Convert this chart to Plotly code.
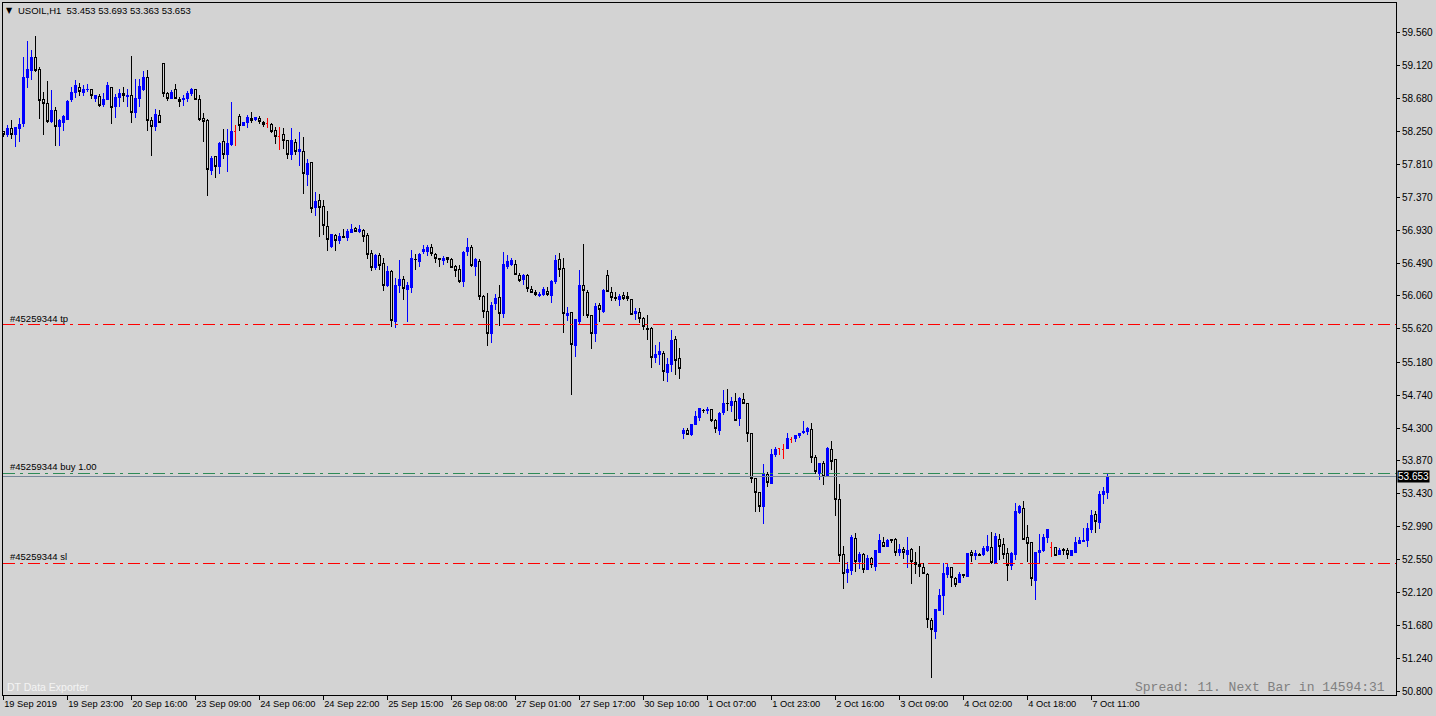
import plotly.graph_objects as go

# ---------------- data (USOIL, H1) ----------------
opens = [58.242,58.207,58.286,58.207,58.286,58.353,58.964,59.053,59.230,59.070,
58.672,58.619,58.375,58.517,58.308,58.366,58.410,58.676,58.760,58.831,
58.760,58.796,58.805,58.689,58.716,58.601,58.676,58.831,58.574,58.698,
58.751,58.707,58.725,58.494,58.689,58.809,58.964,58.397,58.308,58.459,
59.150,58.751,58.685,58.796,58.676,58.663,58.685,58.743,58.796,58.663,
58.419,58.397,57.724,57.910,57.777,58.105,57.945,58.078,58.246,58.450,
58.326,58.362,58.419,58.402,58.419,58.366,58.344,58.340,58.264,58.180,
58.198,58.118,57.945,58.101,57.977,57.985,57.671,57.826,57.232,57.321,
57.254,56.980,56.714,56.856,56.802,56.847,56.834,56.900,56.958,56.918,
56.935,56.856,56.625,56.439,56.590,56.484,56.191,56.386,55.717,56.191,
56.280,56.138,56.169,56.546,56.515,56.647,56.647,56.705,56.612,56.550,
56.528,56.572,56.546,56.448,56.413,56.249,56.647,56.705,56.448,56.514,
56.049,55.850,55.562,55.960,56.040,55.827,56.448,56.483,56.483,56.337,
56.271,56.333,56.146,56.111,56.067,56.084,56.124,56.067,56.248,56.545,
56.426,55.805,55.836,55.398,55.717,56.191,56.111,55.801,55.562,55.938,
55.850,56.324,56.111,56.040,56.005,56.058,56.045,56.005,55.827,55.845,
55.761,55.628,55.628,55.243,55.274,55.296,55.039,55.154,55.482,55.230,
54.224,54.277,54.211,54.344,54.446,54.539,54.530,54.543,54.402,54.277,
54.508,54.632,54.601,54.654,54.424,54.685,54.623,54.224,53.635,53.445,
53.259,53.679,53.569,53.945,54.034,54.021,54.025,54.145,54.158,54.198,
54.242,54.255,54.286,53.914,53.702,53.834,53.666,54.012,53.879,53.347,
52.629,52.381,52.407,52.837,52.527,52.616,52.425,52.571,52.461,52.647,
52.784,52.735,52.824,52.824,52.647,52.695,52.629,52.691,52.518,52.496,
52.452,52.363,51.739,51.597,51.876,52.075,52.350,52.452,52.306,52.248,
52.354,52.328,52.651,52.607,52.620,52.616,52.682,52.718,52.505,52.824,
52.757,52.638,52.474,52.616,53.178,53.236,52.850,52.784,52.283,52.647,
52.673,52.846,52.717,52.709,52.616,52.691,52.682,52.611,52.647,52.771,
52.793,52.802,52.961,53.156,53.045,53.426,53.453]

highs = [58.251,58.326,58.397,58.308,58.424,59.239,59.447,59.327,59.513,59.106,
58.774,58.915,58.796,58.574,58.415,58.463,58.663,58.840,58.929,58.884,
58.858,58.875,58.813,58.734,58.743,58.751,58.902,58.840,58.743,58.805,
58.840,58.805,59.248,58.937,58.937,59.048,59.061,58.441,58.539,58.530,
59.150,58.774,58.796,58.875,58.698,58.729,58.787,58.818,58.796,58.725,
58.486,58.415,57.919,57.919,58.109,58.282,58.282,58.636,58.326,58.477,
58.375,58.459,58.499,58.433,58.450,58.388,58.419,58.353,58.300,58.300,
58.287,58.132,58.291,58.140,58.238,58.176,57.879,57.844,57.440,57.409,
57.334,57.188,56.878,56.882,56.900,56.944,56.944,57.015,56.971,57.002,
56.944,56.891,56.670,56.617,56.625,56.559,56.457,56.404,56.293,56.537,
56.324,56.249,56.670,56.617,56.634,56.736,56.736,56.749,56.625,56.559,
56.590,56.572,56.559,56.470,56.470,56.652,56.829,56.736,56.558,56.545,
56.071,56.093,55.983,56.084,56.204,56.638,56.603,56.558,56.536,56.359,
56.350,56.346,56.191,56.138,56.115,56.173,56.173,56.271,56.603,56.625,
56.558,55.907,55.850,55.748,56.403,56.749,56.138,55.805,55.960,55.960,
56.146,56.403,56.182,56.111,56.084,56.115,56.115,56.018,55.894,55.894,
55.783,55.805,55.650,55.407,55.451,55.331,55.230,55.606,55.526,55.362,
54.308,54.300,54.353,54.530,54.565,54.557,54.579,54.557,54.419,54.512,
54.809,54.822,54.712,54.774,54.720,54.774,54.623,54.233,53.644,53.458,
53.826,53.719,54.021,54.056,54.038,54.091,54.233,54.180,54.198,54.233,
54.397,54.322,54.375,53.945,53.834,53.865,54.047,54.131,53.879,53.559,
52.735,52.527,52.881,52.904,52.655,52.647,52.616,52.594,52.682,52.895,
52.859,52.833,52.824,52.837,52.762,52.726,52.859,52.704,52.660,52.735,
52.505,52.372,51.774,51.894,52.168,52.505,52.505,52.461,52.328,52.394,
52.359,52.647,52.682,52.682,52.647,52.735,52.881,52.926,52.904,52.895,
52.837,52.704,52.651,53.311,53.280,53.333,53.014,52.793,52.660,52.890,
52.890,52.961,52.793,52.726,52.713,52.704,52.704,52.682,52.850,52.850,
52.970,53.037,53.214,53.205,53.471,53.524,53.693]

lows = [58.176,58.176,58.149,58.043,58.109,58.300,58.818,58.929,59.039,58.415,
58.198,58.353,58.353,58.052,58.052,58.251,58.397,58.641,58.685,58.716,
58.716,58.774,58.672,58.641,58.565,58.574,58.663,58.339,58.424,58.574,
58.632,58.574,58.353,58.428,58.574,58.782,58.255,57.919,58.255,58.353,
58.707,58.654,58.672,58.672,58.565,58.583,58.641,58.716,58.663,58.388,
58.109,57.391,57.666,57.631,57.679,57.879,57.710,58.052,58.052,58.256,
58.318,58.296,58.362,58.388,58.340,58.300,58.287,58.229,58.078,57.999,
58.012,57.879,57.866,57.932,57.786,57.414,57.525,57.166,57.126,56.847,
56.869,56.661,56.692,56.661,56.749,56.834,56.794,56.891,56.913,56.900,
56.780,56.546,56.395,56.404,56.404,56.129,56.173,55.651,55.629,56.103,
56.005,55.717,56.094,56.404,56.448,56.617,56.594,56.594,56.492,56.448,
56.470,56.501,56.426,56.315,56.227,56.173,56.594,56.439,56.324,56.005,
55.761,55.398,55.429,55.872,55.659,55.761,56.412,56.457,56.337,56.248,
56.204,56.115,56.093,56.058,56.049,56.058,56.058,55.960,56.217,56.315,
55.562,55.730,54.742,55.243,55.672,55.792,55.761,55.349,55.451,55.708,
55.827,56.115,55.991,55.991,55.929,56.005,55.996,55.805,55.739,55.703,
55.606,55.473,55.097,55.163,55.141,54.933,54.919,55.052,55.008,54.955,
54.158,54.211,54.198,54.344,54.402,54.499,54.486,54.388,54.233,54.211,
54.477,54.530,54.521,54.402,54.335,54.623,54.122,53.578,53.192,53.192,
53.028,53.524,53.560,53.914,53.945,53.892,54.025,54.109,54.122,54.167,
54.224,54.211,53.834,53.693,53.613,53.547,53.657,53.746,53.135,52.527,
52.159,52.248,52.350,52.394,52.425,52.372,52.416,52.438,52.407,52.638,
52.718,52.726,52.771,52.602,52.602,52.558,52.438,52.230,52.363,52.328,
52.363,51.641,50.977,51.499,51.876,51.818,52.306,52.186,52.195,52.239,
52.306,52.319,52.527,52.549,52.602,52.602,52.660,52.496,52.496,52.549,
52.558,52.275,52.416,52.549,53.161,52.815,52.527,52.208,52.018,52.505,
52.660,52.771,52.594,52.602,52.616,52.616,52.558,52.602,52.638,52.762,
52.793,52.726,52.912,52.912,52.961,53.293,53.363]

closes = [58.198,58.286,58.207,58.295,58.339,58.964,59.070,59.230,59.053,58.658,
58.619,58.375,58.517,58.308,58.384,58.437,58.641,58.769,58.849,58.774,
58.796,58.809,58.725,58.725,58.592,58.676,58.849,58.565,58.698,58.743,
58.725,58.729,58.494,58.689,58.840,58.960,58.397,58.308,58.472,58.362,
58.751,58.685,58.769,58.685,58.645,58.689,58.751,58.796,58.672,58.410,
58.379,57.733,57.892,57.777,58.087,57.936,58.087,58.238,58.246,58.318,
58.362,58.424,58.388,58.424,58.375,58.340,58.344,58.242,58.176,58.180,
58.123,57.941,58.118,57.977,57.999,57.689,57.813,57.223,57.308,57.232,
56.993,56.811,56.869,56.794,56.847,56.834,56.918,56.944,56.913,56.944,
56.847,56.612,56.439,56.590,56.457,56.204,56.377,55.730,56.204,56.271,
56.156,56.204,56.559,56.537,56.603,56.670,56.705,56.625,56.559,56.542,
56.559,56.537,56.439,56.395,56.249,56.639,56.705,56.457,56.545,56.049,
55.850,55.562,55.938,56.027,55.827,56.470,56.514,56.527,56.341,56.262,
56.324,56.151,56.111,56.080,56.084,56.138,56.080,56.248,56.536,56.412,
55.827,55.827,55.416,55.739,56.204,56.129,55.801,55.562,55.925,55.881,
56.129,56.115,56.036,56.022,56.049,56.027,56.027,55.814,55.850,55.761,
55.650,55.619,55.243,55.274,55.314,55.052,55.141,55.473,55.207,55.097,
54.264,54.220,54.344,54.455,54.557,54.530,54.543,54.402,54.300,54.490,
54.623,54.623,54.654,54.402,54.690,54.623,54.233,53.635,53.445,53.259,
53.679,53.578,53.945,54.021,54.034,54.021,54.167,54.145,54.198,54.233,
54.251,54.291,53.914,53.724,53.826,53.657,54.034,53.857,53.356,52.607,
52.372,52.425,52.850,52.527,52.624,52.425,52.571,52.483,52.669,52.802,
52.726,52.815,52.806,52.647,52.695,52.647,52.682,52.527,52.483,52.461,
52.372,51.752,51.619,51.894,52.071,52.372,52.447,52.319,52.230,52.363,
52.345,52.638,52.607,52.638,52.611,52.704,52.735,52.514,52.859,52.735,
52.624,52.474,52.638,53.192,53.258,52.828,52.771,52.306,52.651,52.669,
52.846,52.961,52.717,52.611,52.682,52.669,52.616,52.669,52.784,52.815,
52.815,52.970,53.147,53.059,53.426,53.457,53.653]

time_labels = ["19 Sep 2019", "19 Sep 23:00", "20 Sep 16:00", "23 Sep 09:00",
               "24 Sep 06:00", "24 Sep 22:00", "25 Sep 15:00", "26 Sep 08:00",
               "27 Sep 01:00", "27 Sep 17:00", "30 Sep 10:00", "1 Oct 07:00",
               "1 Oct 23:00", "2 Oct 16:00", "3 Oct 09:00", "4 Oct 02:00",
               "4 Oct 18:00", "7 Oct 11:00"]
bars_per_label = 16

price_ticks = [59.560, 59.120, 58.680, 58.250, 57.810, 57.370, 56.930, 56.490,
               56.060, 55.620, 55.180, 54.740, 54.300, 53.870, 53.430, 52.990,
               52.550, 52.120, 51.680, 51.240, 50.800]

symbol = "USOIL,H1"
order_id = "#45259344"
tp_level = 55.673
buy_level = 53.702
sl_level = 52.505
bid_price = 53.653
spread_text = "Spread: 11. Next Bar in 14594:31"

# ---------------- layout constants ----------------
W, H = 1436, 716
ML, MR, MT, MB = 3, 40, 3, 21
PW, PH = W - ML - MR, H - MT - MB
BG = "#D3D3D3"
FONT = "Liberation Sans"
Y_RANGE = [50.755, 59.952]
X0 = -0.05
X_RANGE = [X0, X0 + PW / 4.0]


def px(xpix):
    return (xpix - ML) / PW


def py(ypix):
    return (H - MB - ypix) / PH


bars = list(range(len(opens)))
is_doji = [o == c for o, c in zip(opens, closes)]
main_idx = [i for i in bars if not is_doji[i]]
doji_idx = [i for i in bars if is_doji[i]]

fig = go.Figure()
fig.add_trace(go.Candlestick(
    x=[bars[i] for i in main_idx],
    open=[opens[i] for i in main_idx], high=[highs[i] for i in main_idx],
    low=[lows[i] for i in main_idx], close=[closes[i] for i in main_idx],
    increasing=dict(line=dict(color="#0000FF", width=1), fillcolor="#0000FF"),
    decreasing=dict(line=dict(color="#000000", width=1), fillcolor=BG),
    whiskerwidth=0, showlegend=False, hoverinfo="skip"))
fig.add_trace(go.Candlestick(
    x=[bars[i] for i in doji_idx],
    open=[opens[i] for i in doji_idx], high=[highs[i] for i in doji_idx],
    low=[lows[i] for i in doji_idx], close=[closes[i] for i in doji_idx],
    increasing=dict(line=dict(color="#FF0000", width=1), fillcolor="#FF0000"),
    decreasing=dict(line=dict(color="#FF0000", width=1), fillcolor="#FF0000"),
    whiskerwidth=0, showlegend=False, hoverinfo="skip"))

dash = "12px,5px,3px,5px"
shapes = [
    dict(type="line", xref="paper", yref="y", x0=0, x1=1, y0=tp_level, y1=tp_level,
         line=dict(color="#FF0000", width=1, dash=dash)),
    dict(type="line", xref="paper", yref="y", x0=0, x1=1, y0=buy_level, y1=buy_level,
         line=dict(color="#2E8B57", width=1, dash=dash)),
    dict(type="line", xref="paper", yref="y", x0=0, x1=1, y0=sl_level, y1=sl_level,
         line=dict(color="#FF0000", width=1, dash=dash)),
    dict(type="line", xref="paper", yref="y", x0=0, x1=1, y0=bid_price, y1=bid_price,
         line=dict(color="#778899", width=1)),
]

NB = "\u00a0"
annotations = [
    dict(text="▼", xref="paper", yref="paper", x=px(4), y=py(10), xanchor="left",
         yanchor="middle", showarrow=False, font=dict(family="DejaVu Sans", size=8, color="black")),
    dict(text=f"{symbol}{NB}{NB}{opens[-1]:.3f} {highs[-1]:.3f} {lows[-1]:.3f} {closes[-1]:.3f}",
         xref="paper", yref="paper", x=px(16), y=py(10), xanchor="left", yanchor="middle",
         showarrow=False, font=dict(family=FONT, size=9.5, color="black")),
    dict(text="DT Data Exporter", xref="paper", yref="paper", x=px(5), y=py(687),
         xanchor="left", yanchor="middle", showarrow=False,
         font=dict(family=FONT, size=10.5, color="#F4F4F4")),
    dict(text=spread_text, xref="paper", yref="paper", x=px(1387), y=py(687),
         xanchor="right", yanchor="middle", showarrow=False,
         font=dict(family="Liberation Mono", size=13, color="#808080")),
    dict(text=f"{bid_price:.3f}", xref="paper", yref="y", x=px(1397), y=bid_price,
         xanchor="left", yanchor="middle", showarrow=False, bgcolor="black",
         borderpad=0, font=dict(family=FONT, size=10, color="white")),
]
for lvl, name in [(tp_level, "tp"), (buy_level, "buy 1.00"), (sl_level, "sl")]:
    annotations.append(dict(text=f"{order_id} {name}", xref="paper", yref="y", x=px(8), y=lvl,
                            xanchor="left", yanchor="bottom", yshift=-1, showarrow=False,
                            font=dict(family=FONT, size=9.5, color="black")))

fig.update_layout(
    width=W, height=H, margin=dict(l=ML, r=MR, t=MT, b=MB, pad=0, autoexpand=False),
    paper_bgcolor=BG, plot_bgcolor=BG, showlegend=False, boxgap=0.3,
    shapes=shapes, annotations=annotations,
    xaxis=dict(range=X_RANGE, rangeslider=dict(visible=False), showgrid=False, zeroline=False,
               showline=True, linecolor="black", linewidth=1, mirror=True, automargin=False,
               ticks="outside", ticklen=4, tickcolor="black", tickwidth=1, tickangle=0,
               tickvals=[k * bars_per_label for k in range(len(time_labels))],
               ticktext=time_labels, ticklabelposition="outside right",
               tickfont=dict(family=FONT, size=9.3, color="black")),
    yaxis=dict(range=Y_RANGE, side="right", showgrid=False, zeroline=False, automargin=False,
               showline=True, linecolor="black", linewidth=1, mirror=True,
               ticks="outside", ticklen=3, tickcolor="black",
               tickvals=price_ticks, ticktext=[f"{v:.3f}" for v in price_ticks],
               tickfont=dict(family=FONT, size=10, color="black")),
)

post = ("var s=document.createElement('style');"
        "s.innerHTML='.boxlayer path, .shapelayer path {shape-rendering:crispEdges;}';"
        "document.head.appendChild(s);document.body.style.margin='0';")
fig.write_html("out.html", config={"displayModeBar": False}, post_script=post)
